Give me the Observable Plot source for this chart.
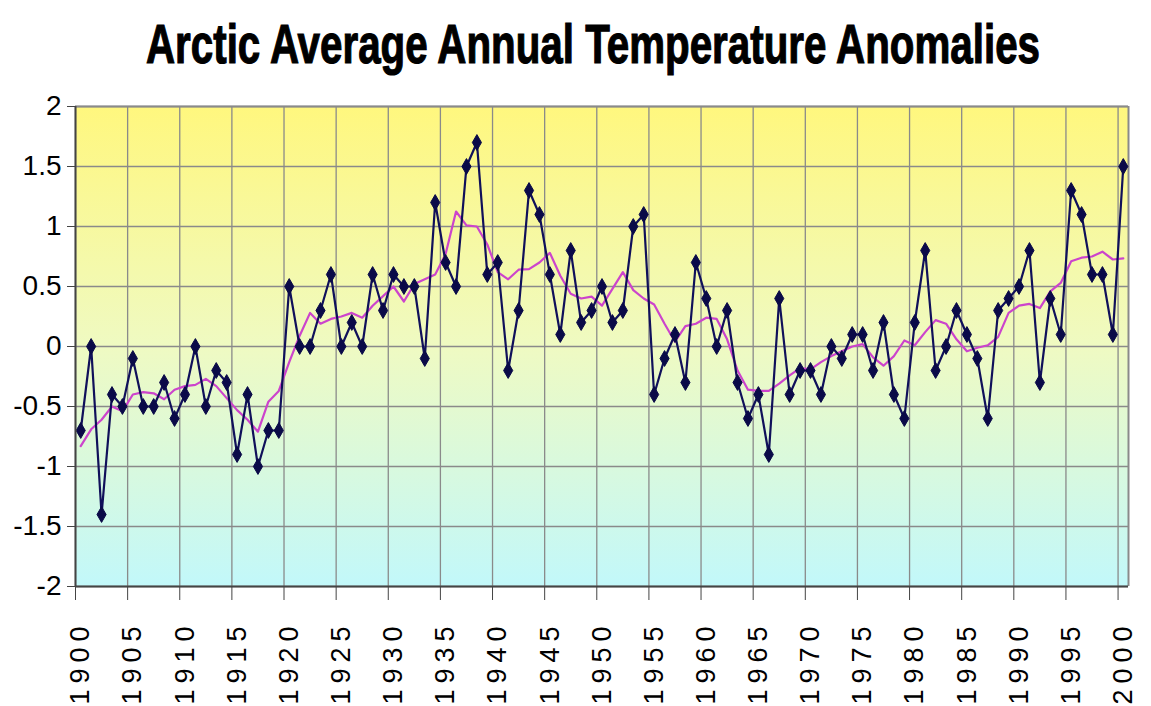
<!DOCTYPE html>
<html><head><meta charset="utf-8">
<script src="https://cdn.jsdelivr.net/npm/d3@7"></script>
<script src="https://cdn.jsdelivr.net/npm/@observablehq/plot@0.6"></script>
<style>
body{margin:0;background:#fff;width:1151px;height:706px;overflow:hidden;position:relative;font-family:"Liberation Sans",Arial,sans-serif;}
#title{position:absolute;left:0;top:0;width:1151px;height:90px;}
#title span{position:absolute;left:593px;top:43px;transform:translate(-50%,-50%) scaleX(0.72);font-weight:bold;font-size:56px;white-space:nowrap;color:#000;-webkit-text-stroke:1.2px #000;}
#chart{position:absolute;left:0;top:90px;}
</style></head><body>
<div id="title"><span>Arctic Average Annual Temperature Anomalies</span></div>
<div id="chart"></div>
<script>
const years = [
  1900,1901,1902,1903,1904,1905,1906,1907,1908,1909,
  1910,1911,1912,1913,1914,1915,1916,1917,1918,1919,
  1920,1921,1922,1923,1924,1925,1926,1927,1928,1929,
  1930,1931,1932,1933,1934,1935,1936,1937,1938,1939,
  1940,1941,1942,1943,1944,1945,1946,1947,1948,1949,
  1950,1951,1952,1953,1954,1955,1956,1957,1958,1959,
  1960,1961,1962,1963,1964,1965,1966,1967,1968,1969,
  1970,1971,1972,1973,1974,1975,1976,1977,1978,1979,
  1980,1981,1982,1983,1984,1985,1986,1987,1988,1989,
  1990,1991,1992,1993,1994,1995,1996,1997,1998,1999,
  2000
];
const anomalies = [
  -0.7, 0, -1.4, -0.4, -0.5, -0.1, -0.5, -0.5, -0.3, -0.6,
  -0.4, 0, -0.5, -0.2, -0.3, -0.9, -0.4, -1.0, -0.7, -0.7,
  0.5, 0, 0, 0.3, 0.6, 0, 0.2, 0, 0.6, 0.3,
  0.6, 0.5, 0.5, -0.1, 1.2, 0.7, 0.5, 1.5, 1.7, 0.6,
  0.7, -0.2, 0.3, 1.3, 1.1, 0.6, 0.1, 0.8, 0.2, 0.3,
  0.5, 0.2, 0.3, 1.0, 1.1, -0.4, -0.1, 0.1, -0.3, 0.7,
  0.4, 0, 0.3, -0.3, -0.6, -0.4, -0.9, 0.4, -0.4, -0.2,
  -0.2, -0.4, 0, -0.1, 0.1, 0.1, -0.2, 0.2, -0.4, -0.6,
  0.2, 0.8, -0.2, 0, 0.3, 0.1, -0.1, -0.6, 0.3, 0.4,
  0.5, 0.8, -0.3, 0.4, 0.1, 1.3, 1.1, 0.6, 0.6, 0.1,
  1.5
];
const smoothed = [
  -0.83, -0.69, -0.61, -0.50, -0.54, -0.40, -0.38, -0.39, -0.44, -0.36,
  -0.33, -0.32, -0.27, -0.33, -0.43, -0.53, -0.61, -0.71, -0.46, -0.37,
  -0.13, 0.09, 0.28, 0.19, 0.23, 0.25, 0.28, 0.24, 0.34, 0.42,
  0.50, 0.375, 0.52, 0.56, 0.60, 0.77, 1.125, 1.01, 1.00, 0.85,
  0.62, 0.56, 0.64, 0.645, 0.70, 0.78, 0.59, 0.44, 0.40, 0.415,
  0.34, 0.48, 0.62, 0.47, 0.40, 0.35, 0.19, 0.04, 0.17, 0.19,
  0.24, 0.23, 0.06, -0.20, -0.36, -0.37, -0.37, -0.31, -0.24, -0.18,
  -0.19, -0.13, -0.08, -0.04, 0.00, 0.02, -0.09, -0.16, -0.08, 0.05,
  0.01, 0.12, 0.22, 0.19, 0.06, -0.04, -0.01, 0.01, 0.08, 0.28,
  0.34, 0.355, 0.32, 0.46, 0.53, 0.71, 0.74, 0.75, 0.79, 0.725,
  0.735
];
const labelYears = [1900,1905,1910,1915,1920,1925,1930,1935,1940,1945,1950,1955,1960,1965,1970,1975,1980,1985,1990,1995,2000];
const yTicks = [-2,-1.5,-1,-0.5,0,0.5,1,1.5,2];

const data = years.map((year, i) => ({year, anomaly: anomalies[i], smooth: smoothed[i]}));
const gridX = labelYears.map(y => y - 0.5);
const xDomain = [years[0] - 0.5, years[years.length - 1] + 0.5];

const plot = Plot.plot({
  width: 1151, height: 616,
  marginLeft: 75, marginRight: 23, marginTop: 16, marginBottom: 120,
  x: {domain: xDomain, axis: null, label: null},
  y: {domain: [-2, 2], axis: null, label: null},
  style: {fontFamily: '"Liberation Sans", Arial, sans-serif', background: "transparent", color: "#000"},
  marks: [
    Plot.frame({fill: "url(#bgGrad)", stroke: null}),
    Plot.ruleY(yTicks, {stroke: "#8a8a8a", strokeWidth: 1.3}),
    Plot.ruleX(gridX, {stroke: "#8a8a8a", strokeWidth: 1.3}),
    Plot.ruleX([xDomain[1]], {stroke: "#8a8a8a", strokeWidth: 2}),
    Plot.ruleY([2], {stroke: "#8a8a8a", strokeWidth: 2}),
    Plot.line(data, {x: "year", y: "smooth", stroke: "#cc44cc", strokeWidth: 2.2}),
    Plot.line(data, {x: "year", y: "anomaly", stroke: "#10105a", strokeWidth: 2.2}),
    Plot.dot(data, {x: "year", y: "anomaly", symbol: "diamond", r: 4.8, fill: "#0a0a48", stroke: "#0a0a48", strokeWidth: 1}),
    Plot.ruleX([xDomain[0]], {stroke: "#444", strokeWidth: 2}),
    Plot.ruleY([-2], {stroke: "#444", strokeWidth: 2}),
    Plot.axisY({ticks: yTicks, tickSize: 8, tickPadding: 6, tickFormat: d => String(d), fontSize: 28, anchor: "left", stroke: "#444", label: null}),
    Plot.axisX({ticks: gridX, tickSize: 14, tickFormat: () => "", anchor: "bottom", stroke: "#444", label: null}),
    Plot.axisX({ticks: labelYears, tickSize: 0, tickRotate: -90, tickPadding: 34, tickFormat: d => String(d), fontSize: 27, anchor: "bottom", label: null})
  ]
});

const svg = d3.select(plot);
const defs = svg.insert("defs", ":first-child");
const grad = defs.append("linearGradient").attr("id", "bgGrad").attr("x1", 0).attr("y1", 0).attr("x2", 0).attr("y2", 1);
grad.append("stop").attr("offset", "0%").attr("stop-color", "#fff77e");
grad.append("stop").attr("offset", "50%").attr("stop-color", "#effac2");
grad.append("stop").attr("offset", "100%").attr("stop-color", "#c2f8fa");
svg.selectAll('[aria-label="x-axis tick label"] text').attr("letter-spacing", "6px");

document.getElementById("chart").appendChild(plot);
</script>
</body></html>
